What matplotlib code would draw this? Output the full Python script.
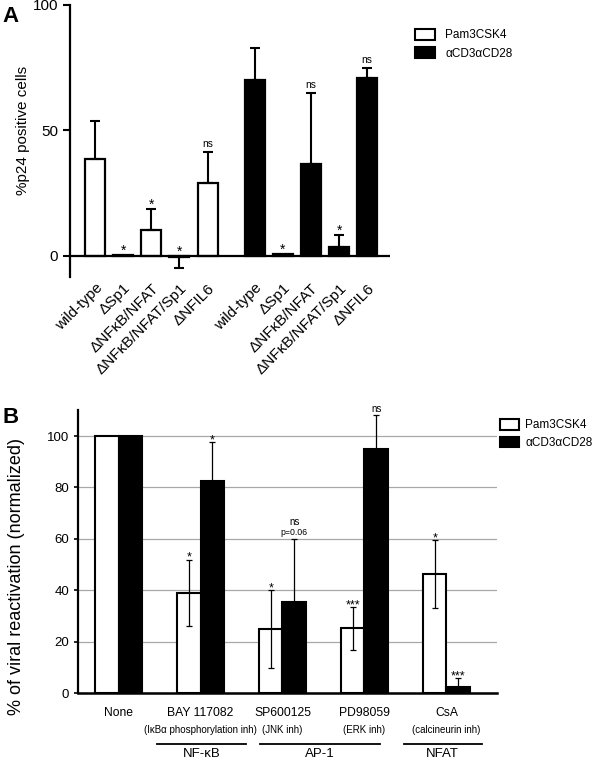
from matplotlib import pyplot as plt
from matplotlib.patches import Patch
import numpy as np

plt.rcParams['font.family'] = ['Liberation Sans', 'DejaVu Sans']

# Panel A data: %p24 positive cells
a_labels = ['wild-type', '\u0394Sp1', '\u0394NF\u03baB/NFAT', '\u0394NF\u03baB/NFAT/Sp1', '\u0394NFIL6']
a_pam = [38.4, 0.3, 10.4, -0.5, 28.8]
a_pam_err = [15.3, 0.0, 8.3, 4.3, 12.7]
a_pam_sig = ['', '*', '*', '*', 'ns']
a_cd3 = [70.0, 0.8, 36.4, 3.5, 71.0]
a_cd3_err = [13.0, 0.0, 28.6, 4.9, 4.0]
a_cd3_sig = ['', '*', 'ns', '*', 'ns']

# Panel B data: % of viral reactivation (normalized)
b_labels = ['None', 'BAY 117082', 'SP600125', 'PD98059', 'CsA']
b_sub = ['', '(I\u03baB\u03b1 phosphorylation inh)', '(JNK inh)', '(ERK inh)', '(calcineurin inh)']
b_pam = [100, 39.0, 25.0, 25.2, 46.3]
b_pam_err = [0, 13.0, 15.0, 8.5, 13.3]
b_pam_sig = ['', '*', '*', '***', '*']
b_cd3 = [100, 82.6, 35.5, 95.0, 2.6]
b_cd3_err = [0, 15.2, 24.5, 13.0, 3.5]
b_cd3_sig = ['', '*', 'ns', 'ns', '***']
groups = ['NF-\u03baB', 'AP-1', 'NFAT']
group_span = [(0.47, 1.56), (1.72, 3.19), (3.48, 4.43)]

legend_labels = ['Pam3CSK4', '\u03b1CD3\u03b1CD28']

fig = plt.figure(figsize=(6, 7.61), dpi=100)

# ---------------- Panel A ----------------
ax = fig.add_axes([70/600, 1-277/761, 320/600, 272/761])
xa = np.concatenate([np.arange(5), np.arange(5) + 5.67])
vals = a_pam + a_cd3
errs = a_pam_err + a_cd3_err
sigs = a_pam_sig + a_cd3_sig
colors = ['white']*5 + ['black']*5
ax.bar(xa, vals, width=0.71, color=colors, edgecolor='black', linewidth=1.6, zorder=2)
for x, v, e, s in zip(xa, vals, errs, sigs):
    if e > 0:
        ax.errorbar(x, v, yerr=[[0], [e]] if v >= 0 else [[e], [0]], fmt='none',
                    ecolor='black', elinewidth=1.5, capsize=3.6, capthick=1.5, zorder=3)
    top = max(v + e if v >= 0 else 0, 0)
    if s == '*':
        ax.annotate(s, (x, top), xytext=(0, 0), textcoords='offset points',
                    ha='center', va='baseline', fontsize=10)
    elif s:
        ax.annotate(s, (x, top), xytext=(0, 3.6), textcoords='offset points',
                    ha='center', va='baseline', fontsize=7.3)
ax.axhline(0, color='black', linewidth=1.6, zorder=4)
ax.set_xlim(-0.89, 10.48)
ax.set_ylim(-8.5, 100)
ax.set_yticks([0, 50, 100])
ax.set_xticks(xa)
ax.set_xticklabels(a_labels + a_labels, rotation=45, ha='right', rotation_mode='anchor', fontsize=11)
ax.tick_params(axis='x', length=0, pad=3)
ax.tick_params(axis='y', length=5, width=1.5, labelsize=11)
for sp in ['top', 'right', 'bottom']:
    ax.spines[sp].set_visible(False)
ax.spines['left'].set_linewidth(1.6)
ax.set_ylabel('%p24 positive cells', fontsize=11)
ax.yaxis.set_label_coords(-0.125, 0.537)

handles = [Patch(facecolor='white', edgecolor='black', linewidth=1.5),
           Patch(facecolor='black', edgecolor='black', linewidth=1.5)]
fig.legend(handles, legend_labels, loc='upper left', bbox_to_anchor=(415/600, 1-29/761),
           frameon=False, fontsize=8.5, handlelength=1.7, handleheight=1.0,
           handletextpad=0.85, labelspacing=0.5, borderpad=0, borderaxespad=0)

fig.text(2/600, 1-22/761, 'A', fontsize=16, fontweight='bold', ha='left', va='baseline')

# ---------------- Panel B ----------------
bx = fig.add_axes([78/600, 1-693.3/761, 419/600, 283/761])
xb = np.arange(len(b_labels))
w = 0.287
bx.bar(xb - w/2, b_pam, width=w, color='white', edgecolor='black', linewidth=1.5, zorder=2)
bx.bar(xb + w/2, b_cd3, width=w, color='black', edgecolor='black', linewidth=1.5, zorder=2)
for i in range(len(xb)):
    if b_pam_err[i] > 0:
        bx.errorbar(xb[i] - w/2, b_pam[i], yerr=b_pam_err[i], fmt='none', ecolor='black',
                    elinewidth=0.9, capsize=2.5, capthick=0.9, zorder=3)
    if b_cd3_err[i] > 0:
        bx.errorbar(xb[i] + w/2, b_cd3[i], yerr=[[0], [b_cd3_err[i]]], fmt='none', ecolor='black',
                    elinewidth=0.9, capsize=2.5, capthick=0.9, zorder=3)
    for xx, v, e, s in [(xb[i] - w/2, b_pam[i], b_pam_err[i], b_pam_sig[i]),
                        (xb[i] + w/2, b_cd3[i], b_cd3_err[i], b_cd3_sig[i])]:
        if not s:
            continue
        if s == 'ns':
            if b_labels[i] == 'SP600125':
                bx.annotate('p=0.06', (xx, v + e), xytext=(0, 2.6), textcoords='offset points',
                            ha='center', va='baseline', fontsize=6.3)
                bx.annotate('ns', (xx, v + e), xytext=(0, 10.3), textcoords='offset points',
                            ha='center', va='baseline', fontsize=7)
            else:
                bx.annotate('ns', (xx, v + e), xytext=(0, 2.8), textcoords='offset points',
                            ha='center', va='baseline', fontsize=7)
        else:
            bx.annotate(s, (xx, v + e), xytext=(0, -1), textcoords='offset points',
                        ha='center', va='baseline', fontsize=9)

bx.set_xlim(-0.494, 4.616)
bx.set_ylim(0, 110)
bx.set_yticks([0, 20, 40, 60, 80, 100])
bx.yaxis.grid(True, color='#a8a8a8', linewidth=0.9, zorder=0)
bx.set_axisbelow(True)
bx.set_xticks([])
bx.tick_params(axis='y', length=3, width=1.2, labelsize=9.5)
for sp in ['top', 'right']:
    bx.spines[sp].set_visible(False)
bx.spines['left'].set_linewidth(1.6)
bx.spines['bottom'].set_linewidth(1.8)
bx.set_ylabel('% of viral reactivation (normalized)', fontsize=13)
bx.yaxis.set_label_coords(-0.127, 0.413)

trans = bx.get_xaxis_transform()
for i, lab in enumerate(b_labels):
    bx.text(xb[i], -0.071, lab, transform=trans, ha='center', va='center', fontsize=8.7)
    if b_sub[i]:
        bx.text(xb[i], -0.13, b_sub[i], transform=trans, ha='center', va='center', fontsize=7)
for g, (x0, x1) in zip(groups, group_span):
    bx.plot([x0, x1], [-0.18, -0.18], transform=trans, color='black', linewidth=1.3, clip_on=False)
    bx.text((x0 + x1) / 2, -0.224, g, transform=trans, ha='center', va='baseline', fontsize=9.5)

fig.legend(handles, legend_labels, loc='upper left', bbox_to_anchor=(500/600, 1-419/761),
           frameon=False, fontsize=8.5, handlelength=1.6, handleheight=1.0,
           handletextpad=0.55, labelspacing=0.45, borderpad=0, borderaxespad=0)

fig.text(2/600, 1-423/761, 'B', fontsize=16, fontweight='bold', ha='left', va='baseline')

plt.savefig('out.png', dpi=100)
